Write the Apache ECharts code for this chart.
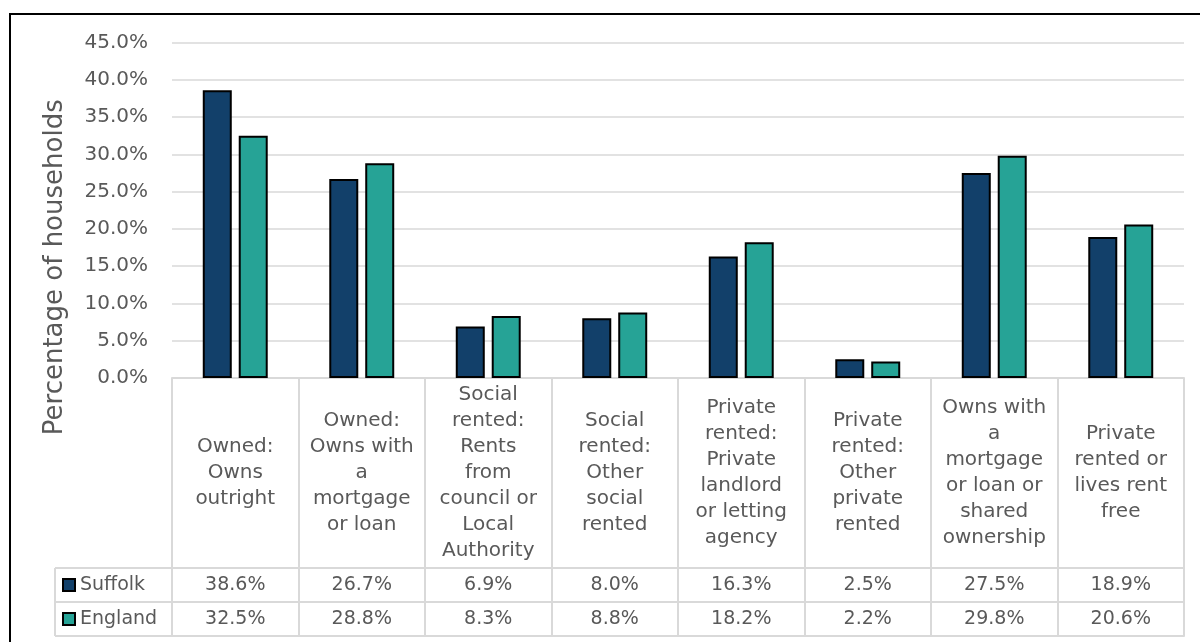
<!DOCTYPE html>
<html>
<head>
<meta charset="utf-8">
<script src="https://cdn.jsdelivr.net/npm/echarts@6/dist/echarts.min.js"></script>
<style>
  html, body { margin: 0; padding: 0; background: #fff; }
  #chart { width: 1200px; height: 642px; }
</style>
</head>
<body>
<div id="chart"></div>
<script>
// Tenure categories (wrapped as shown in the table header)
const categories = [
  'Owned:\nOwns\noutright',
  'Owned:\nOwns with\na\nmortgage\nor loan',
  'Social\nrented:\nRents\nfrom\ncouncil or\nLocal\nAuthority',
  'Social\nrented:\nOther\nsocial\nrented',
  'Private\nrented:\nPrivate\nlandlord\nor letting\nagency',
  'Private\nrented:\nOther\nprivate\nrented',
  'Owns with\na\nmortgage\nor loan or\nshared\nownership',
  'Private\nrented or\nlives rent\nfree'
];
const seriesNames = ['Suffolk', 'England'];
const suffolk = [38.6, 26.7, 6.9, 8.0, 16.3, 2.5, 27.5, 18.9];
const england = [32.5, 28.8, 8.3, 8.8, 18.2, 2.2, 29.8, 20.6];
const yTicks = { min: 0, max: 45, interval: 5 };

const W = 1200, H = 642;
const FONT = 'DejaVu Sans';
const TEXT = '#595959';
const LINE = '#d9d9d9';
const COLORS = ['#12406a', '#26a396'];

// Layout of plot and attached data table
const gridL = 172, gridR = 16, gridT = 42.5, gridB = 264;
const base = H - gridB;          // y of the 0% line / top of the table
const headH = 190;               // header row height
const rowH = 34;                 // data row height
const tableL = 55;               // left edge of the legend column
const rowTop = [base + headH, base + headH + rowH, base + headH + 2 * rowH];

const fmt = v => v.toFixed(1) + '%';

const chart = echarts.init(document.getElementById('chart'), null, { renderer: 'canvas', width: W, height: H });

const rowAxis = (values, offset, showLabel) => ({
  type: 'category',
  data: categories,
  position: 'bottom',
  offset: offset,
  axisLine: { show: true, lineStyle: { color: LINE, width: 2 } },
  axisTick: { show: false },
  axisLabel: {
    show: showLabel,
    margin: rowH / 2,
    verticalAlign: 'middle',
    fontFamily: FONT, fontSize: 19, color: TEXT,
    formatter: (v, i) => values ? fmt(values[i]) : ''
  },
  splitLine: { show: false }
});

const tableLines = [
  // horizontal rules extending into the legend column
  ...rowTop.map(y => ({
    type: 'line',
    shape: { x1: tableL, y1: y, x2: gridL, y2: y },
    style: { stroke: LINE, lineWidth: 2 }
  })),
  {
    type: 'line',
    shape: { x1: tableL, y1: rowTop[0], x2: tableL, y2: rowTop[2] },
    style: { stroke: LINE, lineWidth: 2 }
  }
];

chart.setOption({
  backgroundColor: '#fff',
  animation: false,
  textStyle: { fontFamily: FONT },
  grid: { left: gridL, right: gridR, top: gridT, bottom: gridB, containLabel: false },
  legend: seriesNames.map((name, i) => ({
    data: [name],
    left: 62,
    top: rowTop[i] + rowH / 2 - 10,
    padding: 0,
    itemWidth: 12,
    itemHeight: 12,
    icon: 'rect',
    textStyle: { fontFamily: FONT, fontSize: 19, color: TEXT, lineHeight: 20 },
    selectedMode: false
  })),
  xAxis: [
    {
      type: 'category',
      data: categories,
      position: 'bottom',
      axisLine: { show: true, lineStyle: { color: LINE, width: 2 } },
      axisTick: { show: true, length: headH + 2 * rowH, lineStyle: { color: LINE, width: 2 } },
      axisLabel: {
        interval: 0,
        margin: headH / 2,
        verticalAlign: 'middle',
        align: 'center',
        fontFamily: FONT, fontSize: 20, lineHeight: 26, color: TEXT
      }
    },
    rowAxis(suffolk, headH, true),
    rowAxis(england, headH + rowH, true),
    rowAxis(null, headH + 2 * rowH, false)
  ],
  yAxis: {
    type: 'value',
    min: yTicks.min,
    max: yTicks.max,
    interval: yTicks.interval,
    name: 'Percentage of households',
    nameLocation: 'middle',
    nameRotate: 90,
    nameGap: 104,
    nameTextStyle: { fontFamily: FONT, fontSize: 26, color: TEXT, padding: [0, 114, 0, 0] },
    axisLine: { show: false },
    axisTick: { show: false },
    axisLabel: { formatter: v => fmt(v), margin: 24, fontFamily: FONT, fontSize: 20, color: TEXT },
    splitLine: { lineStyle: { color: LINE, width: 1.5 } }
  },
  series: [suffolk, england].map((vals, i) => ({
    name: seriesNames[i],
    type: 'bar',
    data: vals,
    barWidth: 29,
    barGap: '24%',
    itemStyle: { color: COLORS[i], borderColor: '#000', borderWidth: 2 }
  })),
  graphic: [
    ...tableLines,
    {
      type: 'rect',
      shape: { x: 10, y: 14, width: W + 20, height: H + 20 },
      style: { fill: 'none', stroke: '#000', lineWidth: 2 },
      silent: true
    }
  ]
});
</script>
</body>
</html>
